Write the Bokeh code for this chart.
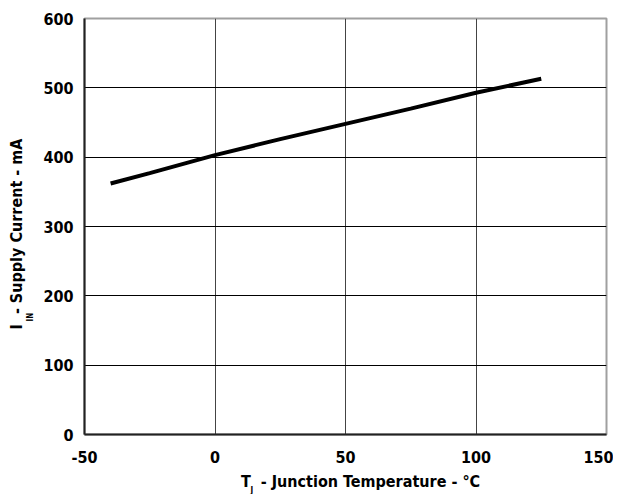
from bokeh.plotting import figure
from bokeh.models import FixedTicker, Label
from bokeh.embed import file_html
from bokeh.resources import INLINE
import math

# Data
temperature = [-40, -25, 0, 25, 50, 75, 100, 125]
supply_current = [362, 377, 403, 426, 448, 470, 493, 513]
x_ticks = [-50, 0, 50, 100, 150]
y_ticks = [0, 100, 200, 300, 400, 500, 600]

FONT = "'DejaVu Sans Condensed', 'Liberation Sans', sans-serif"
NB = "\u00a0"

p = figure(width=613, height=494,
           x_range=(-50, 150), y_range=(0, 600),
           output_backend="svg", toolbar_location=None,
           min_border_left=84, min_border_right=7, min_border_top=18, min_border_bottom=60)

p.outline_line_color = "#a0a0a0"
p.outline_line_width = 2

p.line(temperature, supply_current, line_color="black", line_width=4)

for ax in (p.xaxis[0], p.yaxis[0]):
    ax.axis_line_color = "#222222"
    ax.axis_line_width = 2
    ax.major_tick_in = 0
    ax.major_tick_out = 0
    ax.minor_tick_in = 0
    ax.minor_tick_out = 0
    ax.major_label_text_font = FONT
    ax.major_label_text_font_style = "bold"
    ax.major_label_text_font_size = "16px"
    ax.major_label_text_color = "black"
    ax.axis_label_text_font = FONT
    ax.axis_label_text_font_style = "bold"
    ax.axis_label_text_font_size = "16px"
    ax.axis_label_text_color = "black"

p.xaxis[0].ticker = FixedTicker(ticks=x_ticks)
p.yaxis[0].ticker = FixedTicker(ticks=y_ticks)
p.xaxis[0].major_label_overrides = {t: str(t) for t in x_ticks}
p.xaxis[0].major_label_standoff = 16
p.yaxis[0].major_label_standoff = 11
p.xaxis[0].axis_label_standoff = 6
p.yaxis[0].axis_label_standoff = 14

# main axis label texts (gap left for the subscripts)
p.xaxis[0].axis_label = NB * 6 + "T" + NB + " - Junction Temperature - °C"
p.yaxis[0].axis_label = "I" + NB + " - Supply Current - mA" + NB * 3

p.xgrid[0].ticker = FixedTicker(ticks=x_ticks)
p.ygrid[0].ticker = FixedTicker(ticks=y_ticks)
p.xgrid[0].grid_line_color = "#444444"
p.ygrid[0].grid_line_color = "black"

lab = dict(x_units="canvas", y_units="canvas", text_font=FONT,
           text_font_style="bold", text_color="black", text_font_size="8px",
           text_align="left", text_baseline="alphabetic")

# subscripts
p.add_layout(Label(x=250, y=490, text="J", **lab), "right")
p.add_layout(Label(x=30, y=321, text="IN", angle=math.pi / 2, **lab), "above")

open("out.html", "w").write(file_html(p, INLINE))
